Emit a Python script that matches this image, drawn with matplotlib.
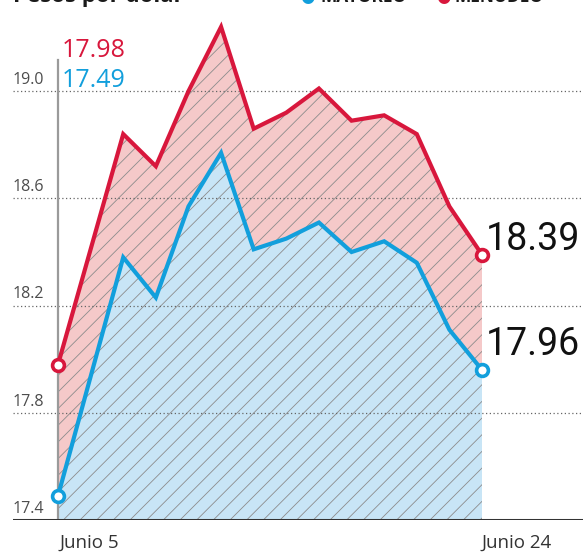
import matplotlib
matplotlib.use('Agg')
import matplotlib.pyplot as plt
import matplotlib.transforms as mtransforms

# data: tipo de cambio, pesos por dólar (junio 5 - junio 24)
idx = [0, 2, 3, 4, 5, 6, 7, 8, 9, 10, 11, 12, 13]
menudeo = [17.98, 18.84, 18.72, 19.00, 19.24, 18.86, 18.92, 19.01, 18.89, 18.91, 18.84, 18.57, 18.39]
mayoreo = [17.49, 18.38, 18.23, 18.57, 18.77, 18.41, 18.45, 18.51, 18.40, 18.44, 18.36, 18.11, 17.96]
yticks = [17.4, 17.8, 18.2, 18.6, 19.0]
xlabels = ['Junio 5', 'Junio 24']

RED = '#d8173c'
BLUE = '#129fdc'
PINK = '#f5c9c9'
LBLUE = '#c8e5f6'

plt.rcParams['hatch.linewidth'] = 0.6
plt.rcParams['font.family'] = ['Open Sans', 'DejaVu Sans']

W, H = 583, 552
fig = plt.figure(figsize=(W / 100, H / 100), dpi=100)

# axes placed in pixel terms: left edge 13px, bottom line at 520px
ax = fig.add_axes([13 / W, (H - 520) / H, (W - 13) / W, 520 / H])
px_per_step = 424 / 13.0
ax.set_xlim(-45 / px_per_step, (W - 58) / px_per_step)
ax.set_ylim(17.4, 17.4 + 520 / 268.0)
ax.axis('off')

# fills
ax.fill_between(idx, menudeo, 17.4, facecolor=PINK, edgecolor='#8c8c8c',
                linewidth=0, hatch='//', zorder=1)
ax.fill_between(idx, mayoreo, 17.4, facecolor=LBLUE, edgecolor='#8c8c8c',
                linewidth=0, hatch='//', zorder=2)

# grid lines and tick labels
trans = mtransforms.blended_transform_factory(ax.transAxes, ax.transData)
for v in yticks[1:]:
    ax.axhline(v, color='#666666', lw=0.9, ls=(0, (1, 2)), zorder=3)
for v in yticks:
    ax.text(0.0, v + 0.012, '%.1f' % v, transform=trans, ha='left', va='bottom',
            fontsize=11.5, color='#4d4d4d', zorder=6)

# axis lines
ax.axvline(0, ymin=0, ymax=460 / 520, color='#9a9a9a', lw=1.6, zorder=3)
ax.axhline(17.4, color='#333333', lw=2.2, zorder=6)

# lines
ax.plot(idx, menudeo, color=RED, lw=3, solid_joinstyle='miter', zorder=4)
ax.plot(idx, mayoreo, color=BLUE, lw=3, solid_joinstyle='miter', zorder=4)
for s, c in [(menudeo, RED), (mayoreo, BLUE)]:
    ax.plot([idx[0], idx[-1]], [s[0], s[-1]], ls='none', marker='o', ms=8.5,
            mfc='white', mec=c, mew=2.6, zorder=5)

# starting values (top-left)
ax.text(0.12, 19.128, '%.2f' % menudeo[0], color=RED, fontsize=18, ha='left',
        va='baseline', zorder=6)
ax.text(0.12, 19.016, '%.2f' % mayoreo[0], color=BLUE, fontsize=18, ha='left',
        va='baseline', zorder=6)

# final values (right)
big = dict(color='#111111', fontsize=27, ha='left', va='center',
           family=['Roboto', 'DejaVu Sans'], zorder=6)
ax.text(idx[-1] + 0.12, menudeo[-1] + 0.055, '%.2f' % menudeo[-1], **big)
ax.text(idx[-1] + 0.12, mayoreo[-1] + 0.093, '%.2f' % mayoreo[-1], **big)

# x labels
ax.text(idx[0] + 0.05, 17.4 - 0.05, xlabels[0], ha='left', va='top',
        fontsize=13.5, color='#333333', zorder=6)
ax.text(idx[-1], 17.4 - 0.05, xlabels[1], ha='left', va='top',
        fontsize=13.5, color='#333333', zorder=6)

# header (cut at top edge like the reference)
ytop = 1 - 2 / H
fig.text(13 / W, ytop, 'Pesos por dólar', fontsize=16, fontweight='bold',
         color='#1a1a1a', ha='left', va='baseline')
fig.text(307 / W, ytop, '●', fontsize=12, color=BLUE, ha='center', va='baseline')
fig.text(320 / W, ytop, 'MAYOREO', fontsize=12.5, fontweight='bold',
         color='#1a1a1a', ha='left', va='baseline')
fig.text(443 / W, ytop, '●', fontsize=12, color=RED, ha='center', va='baseline')
fig.text(455 / W, ytop, 'MENUDEO', fontsize=12.5, fontweight='bold',
         color='#1a1a1a', ha='left', va='baseline')

fig.savefig('out.png', dpi=100)
